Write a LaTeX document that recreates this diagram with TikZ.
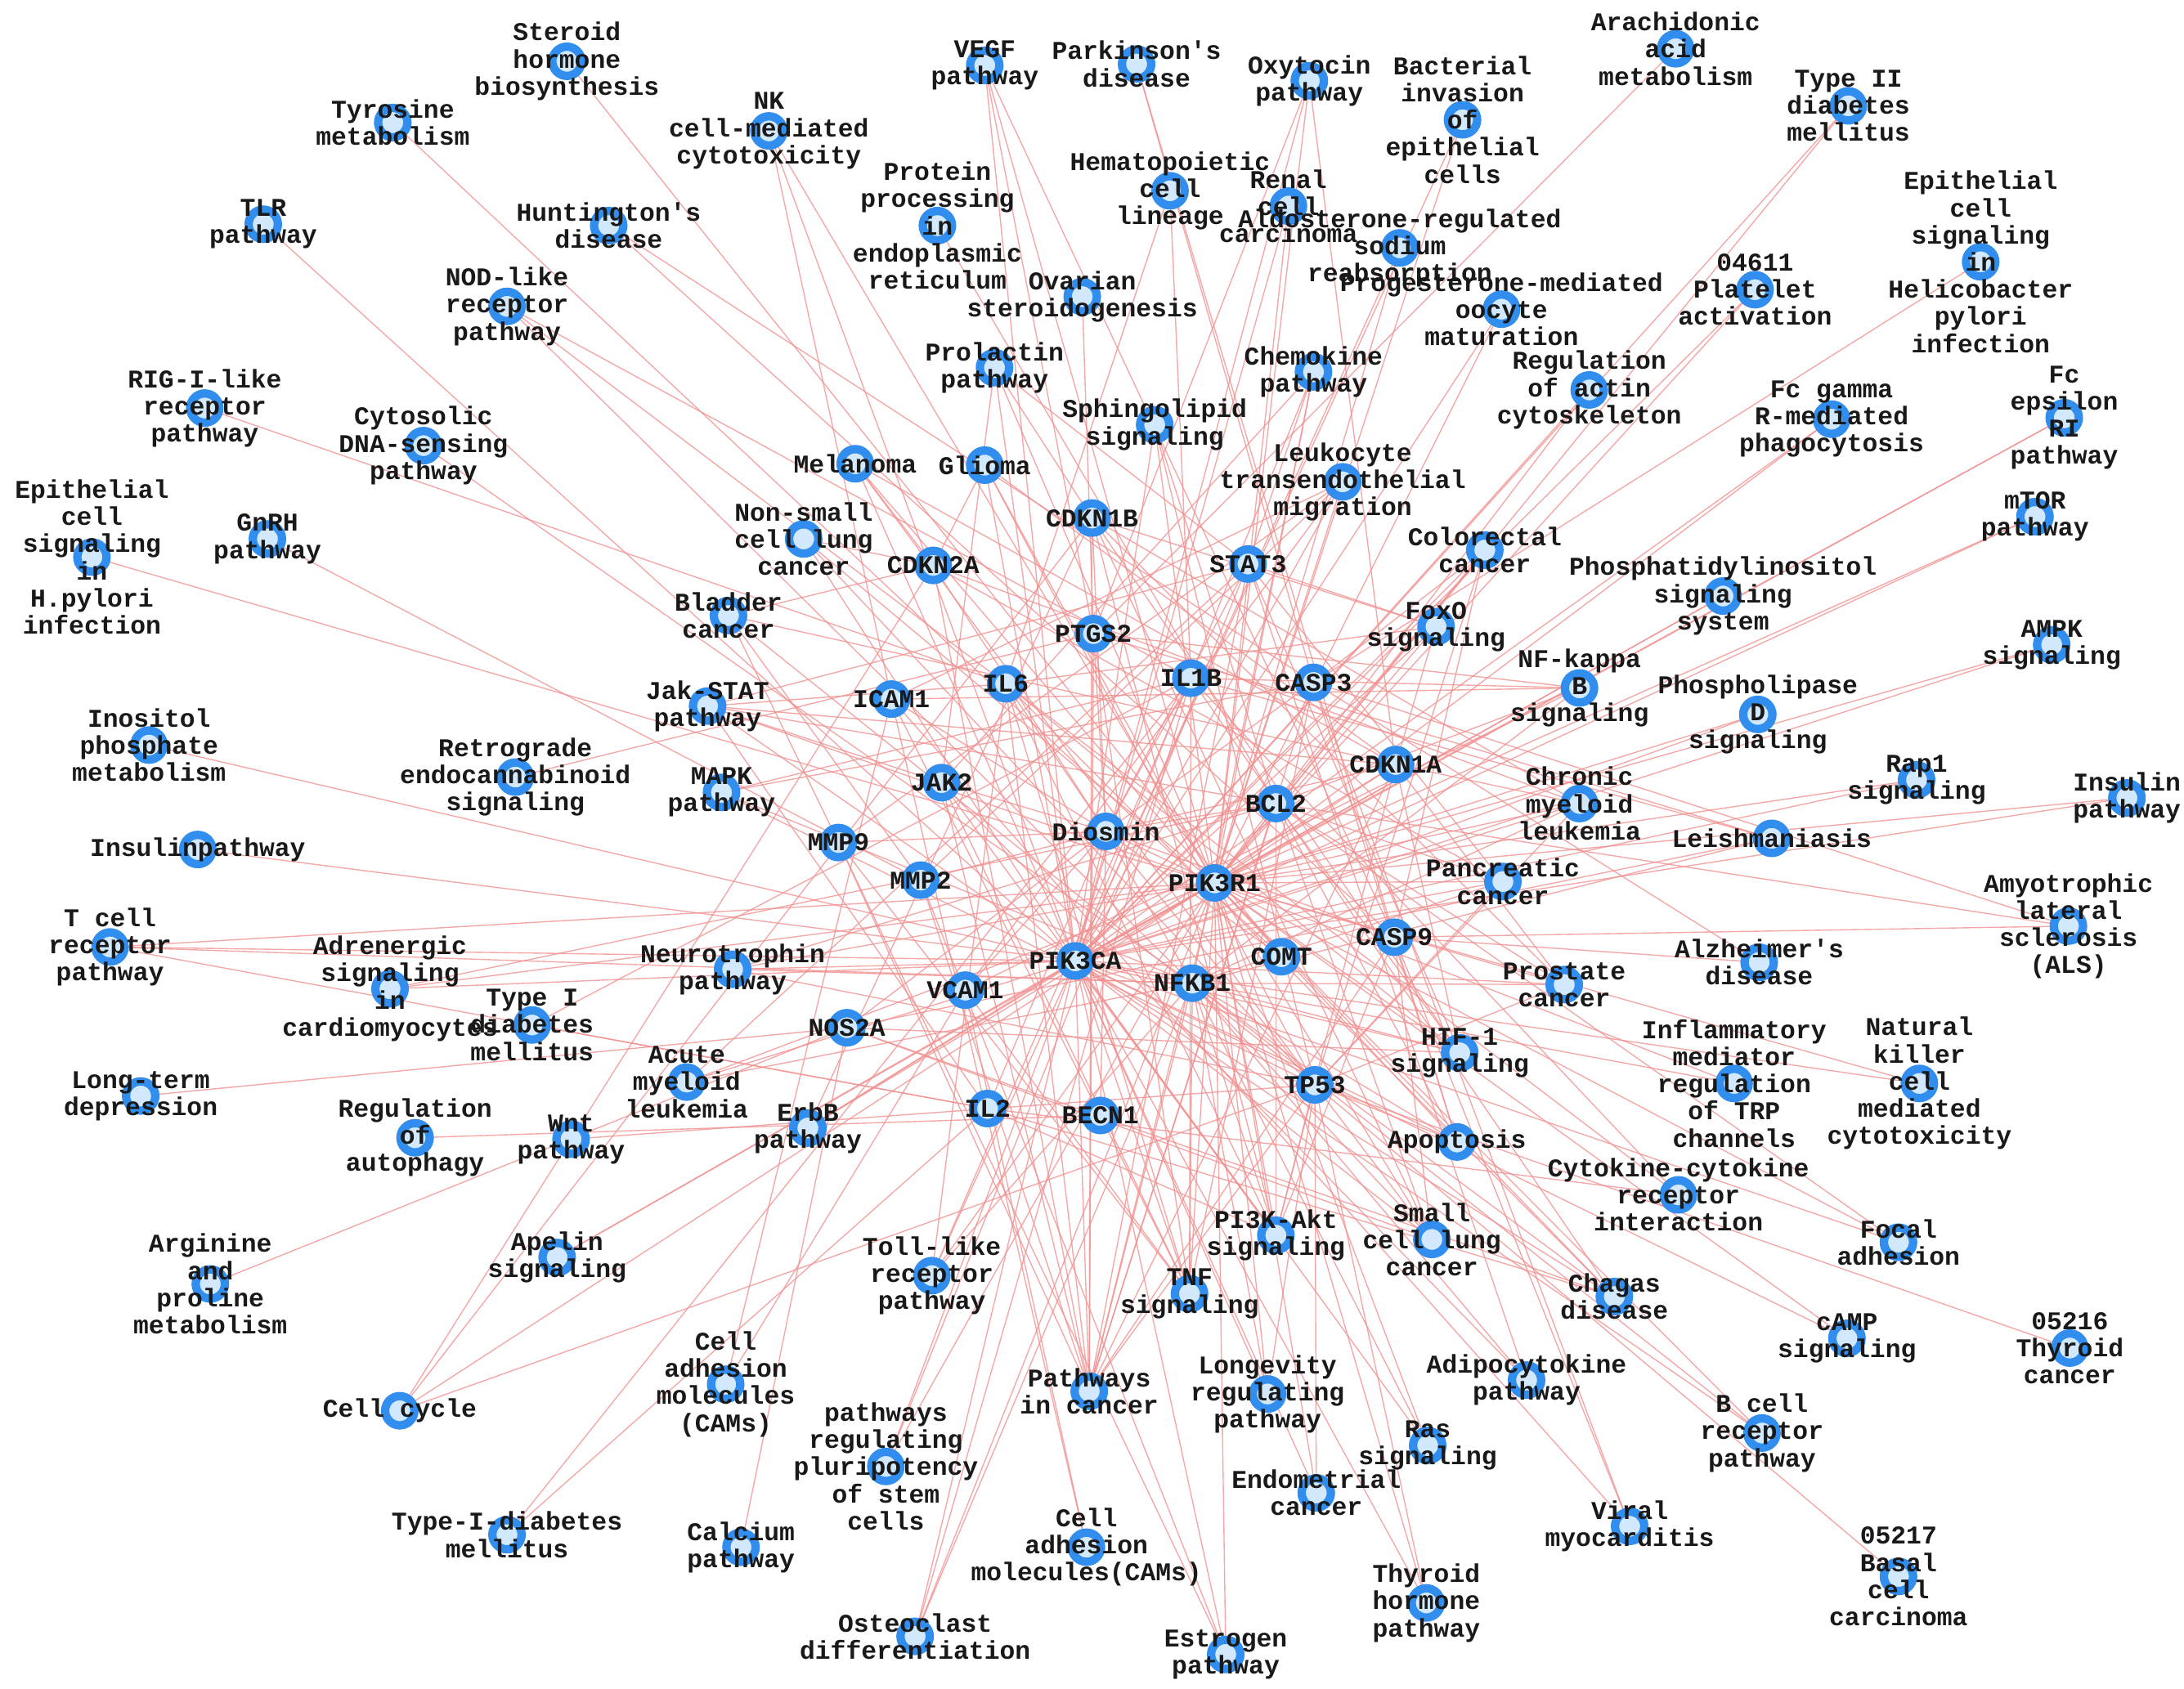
\documentclass[tikz,border=0pt]{standalone}
\usepackage{fontspec}
\newfontfamily\lblfam{Liberation Mono}
\newcommand{\lblfont}{\lblfam\bfseries\fontsize{18.4}{19.5}\selectfont}
\definecolor{ringblue}{RGB}{50,142,238}
\definecolor{coreblue}{RGB}{210,233,253}
\definecolor{edgered}{RGB}{242,145,145}
\definecolor{txtc}{RGB}{25,25,25}
\pgfdeclarelayer{background}
\pgfdeclarelayer{foreground}
\pgfsetlayers{background,main,foreground}
\tikzset{
  ring/.style={circle, draw=ringblue, line width=6pt, fill=coreblue, minimum size=21pt, inner sep=0pt},
  lbl/.style={align=center, font=\lblfont, text=txtc, inner sep=0pt},
  edge/.style={draw=edgered, line width=0.8pt, opacity=0.8}
}
\newcommand{\nd}[4]{%
  \node[ring] (#1) at (#2,#3) {};
  \begin{pgfonlayer}{foreground}\node[lbl] (#1-l) at (#2,#3) {#4};\end{pgfonlayer}}
\newcommand{\conn}[2]{\foreach \g in {#2}{\draw[edge] (#1.center) -- (\g.center);}}
\begin{document}
\begin{tikzpicture}[x=1pt,y=-1pt]
\useasboundingbox (0,0) rectangle (1568,1212.8);
% genes
\nd{dio}{794}{597}{Diosmin}
\nd{pik3ca}{772}{690}{PIK3CA}
\nd{pik3r1}{872}{634}{PIK3R1}
\nd{nfkb1}{856}{706}{NFKB1}
\nd{comt}{920}{687}{COMT}
\nd{casp9}{1001}{673}{CASP9}
\nd{cdkn1a}{1002}{549}{CDKN1A}
\nd{bcl2}{916}{577}{BCL2}
\nd{casp3}{943}{490}{CASP3}
\nd{il1b}{855}{487}{IL1B}
\nd{stat3}{896}{405}{STAT3}
\nd{ptgs2}{785}{455}{PTGS2}
\nd{cdkn1b}{784}{372}{CDKN1B}
\nd{cdkn2a}{670}{406}{CDKN2A}
\nd{il6}{722}{491}{IL6}
\nd{icam1}{640}{502}{ICAM1}
\nd{jak2}{676}{562}{JAK2}
\nd{mmp9}{602}{605}{MMP9}
\nd{mmp2}{661}{632}{MMP2}
\nd{vcam1}{693}{711}{VCAM1}
\nd{nos2a}{608}{738}{NOS2A}
\nd{il2}{709}{796}{IL2}
\nd{becn1}{790}{801}{BECN1}
\nd{tp53}{944}{779}{TP53}
% pathways
\nd{steroid}{407}{44}{Steroid\\hormone\\biosynthesis}
\nd{tyrosine}{282}{88}{Tyrosine\\metabolism}
\nd{nk}{552}{94}{NK\\cell-mediated\\cytotoxicity}
\nd{vegf}{707}{47}{VEGF\\pathway}
\nd{parkinson}{816}{46}{Parkinson's\\disease}
\nd{oxytocin}{940}{58}{Oxytocin\\pathway}
\nd{bacterial}{1050}{86}{Bacterial\\invasion\\of\\epithelial\\cells}
\nd{arachidonic}{1203}{35}{Arachidonic\\acid\\metabolism}
\nd{ttd}{1327}{76}{Type II\\diabetes\\mellitus}
\nd{tlr}{189}{161}{TLR\\pathway}
\nd{huntington}{437}{162}{Huntington's\\disease}
\nd{protein}{673}{162}{Protein\\processing\\in\\endoplasmic\\reticulum}
\nd{hemato}{840}{137}{Hematopoietic\\cell\\lineage}
\nd{renal}{925}{148}{Renal\\cell\\carcinoma}
\nd{aldo}{1005}{178}{Aldosterone-regulated\\sodium\\reabsorption}
\nd{ephelico}{1422}{188}{Epithelial\\cell\\signaling\\in\\Helicobacter\\pylori\\infection}
\nd{platelet}{1260}{208}{04611\\Platelet\\activation}
\nd{nod}{364}{220}{NOD-like\\receptor\\pathway}
\nd{ovarian}{777}{213}{Ovarian\\steroidogenesis}
\nd{progest}{1078}{222}{Progesterone-mediated\\oocyte\\maturation}
\nd{prolactin}{714}{264}{Prolactin\\pathway}
\nd{chemokine}{943}{267}{Chemokine\\pathway}
\nd{actin}{1141}{280}{Regulation\\of actin\\cytoskeleton}
\nd{fcgamma}{1315}{301}{Fc gamma\\R-mediated\\phagocytosis}
\nd{fceps}{1482}{300}{Fc\\epsilon\\RI\\pathway}
\nd{rig}{147}{293}{RIG-I-like\\receptor\\pathway}
\nd{cytosolic}{304}{320}{Cytosolic\\DNA-sensing\\pathway}
\nd{sphingo}{829}{305}{Sphingolipid\\signaling}
\nd{melanoma}{614}{333}{Melanoma}
\nd{glioma}{707}{334}{Glioma}
\nd{leukocyte}{964}{346}{Leukocyte\\transendothelial\\migration}
\nd{mtor}{1461}{371}{mTOR\\pathway}
\nd{nsclc}{577}{387}{Non-small\\cell lung\\cancer}
\nd{ephylori}{66}{400}{Epithelial\\cell\\signaling\\in\\H.pylori\\infection}
\nd{gnrh}{192}{387}{GnRH\\pathway}
\nd{colorectal}{1066}{395}{Colorectal\\cancer}
\nd{phosphatidyl}{1237}{428}{Phosphatidylinositol\\signaling\\system}
\nd{bladder}{523}{442}{Bladder\\cancer}
\nd{foxo}{1031}{450}{FoxO\\signaling}
\nd{ampk}{1473}{463}{AMPK\\signaling}
\nd{nfkb}{1134}{494}{NF-kappa\\B\\signaling}
\nd{jakstat}{508}{507}{Jak-STAT\\pathway}
\nd{pld}{1262}{513}{Phospholipase\\D\\signaling}
\nd{inositol}{107}{535}{Inositol\\phosphate\\metabolism}
\nd{retro}{370}{558}{Retrograde\\endocannabinoid\\signaling}
\nd{mapk}{518}{569}{MAPK\\pathway}
\nd{rapone}{1376}{560}{Rap1\\signaling}
\nd{insulinR}{1527}{573}{Insulin\\pathway}
\nd{cml}{1134}{577}{Chronic\\myeloid\\leukemia}
\nd{leish}{1272}{602}{Leishmaniasis}
\nd{insulinL}{142}{610}{Insulinpathway}
\nd{pancreatic}{1079}{633}{Pancreatic\\cancer}
\nd{als}{1485}{665}{Amyotrophic\\lateral\\sclerosis\\(ALS)}
\nd{tcell}{79}{680}{T cell\\receptor\\pathway}
\nd{adrenergic}{280}{710}{Adrenergic\\signaling\\in\\cardiomyocytes}
\nd{neurotrophin}{526}{696}{Neurotrophin\\pathway}
\nd{alzheimer}{1263}{691}{Alzheimer's\\disease}
\nd{prostate}{1123}{707}{Prostate\\cancer}
\nd{tod}{382}{736}{Type I\\diabetes\\mellitus}
\nd{aml}{493}{777}{Acute\\myeloid\\leukemia}
\nd{hif}{1048}{756}{HIF-1\\signaling}
\nd{inflam}{1245}{778}{Inflammatory\\mediator\\regulation\\of TRP\\channels}
\nd{nkc}{1378}{778}{Natural\\killer\\cell\\mediated\\cytotoxicity}
\nd{ltd}{101}{787}{Long-term\\depression}
\nd{autophagy}{298}{817}{Regulation\\of\\autophagy}
\nd{wnt}{410}{818}{Wnt\\pathway}
\nd{erbb}{580}{810}{ErbB\\pathway}
\nd{apoptosis}{1046}{820}{Apoptosis}
\nd{cytokine}{1205}{858}{Cytokine-cytokine\\receptor\\interaction}
\nd{pik}{916}{887}{PI3K-Akt\\signaling}
\nd{sclc}{1028}{890}{Small\\cell lung\\cancer}
\nd{focal}{1363}{892}{Focal\\adhesion}
\nd{apelin}{400}{903}{Apelin\\signaling}
\nd{tolllike}{669}{916}{Toll-like\\receptor\\pathway}
\nd{arginine}{151}{922}{Arginine\\and\\proline\\metabolism}
\nd{tnf}{854}{929}{TNF\\signaling}
\nd{chagas}{1159}{931}{Chagas\\disease}
\nd{camp}{1326}{961}{cAMP\\signaling}
\nd{thyroidca}{1486}{968}{05216\\Thyroid\\cancer}
\nd{camsa}{521}{994}{Cell\\adhesion\\molecules\\(CAMs)}
\nd{pic}{782}{999}{Pathways\\in cancer}
\nd{longevity}{910}{1001}{Longevity\\regulating\\pathway}
\nd{adipo}{1096}{991}{Adipocytokine\\pathway}
\nd{cellcycle}{287}{1013}{Cell cycle}
\nd{bcr}{1265}{1029}{B cell\\receptor\\pathway}
\nd{ras}{1025}{1038}{Ras\\signaling}
\nd{pluri}{636}{1053}{pathways\\regulating\\pluripotency\\of stem\\cells}
\nd{endometrial}{945}{1072}{Endometrial\\cancer}
\nd{viral}{1170}{1096}{Viral\\myocarditis}
\nd{todb}{364}{1102}{Type-I-diabetes\\mellitus}
\nd{calcium}{532}{1111}{Calcium\\pathway}
\nd{camsb}{780}{1111}{Cell\\adhesion\\molecules(CAMs)}
\nd{basal}{1363}{1132}{05217\\Basal\\cell\\carcinoma}
\nd{thyroidh}{1024}{1151}{Thyroid\\hormone\\pathway}
\nd{osteo}{657}{1175}{Osteoclast\\differentiation}
\nd{estrogen}{880}{1188}{Estrogen\\pathway}
% edges
\begin{pgfonlayer}{background}
\fill[white] (0,0) rectangle (1568,1212.8);
\conn{dio}{pik3ca,pik3r1,nfkb1,comt,casp9,cdkn1a,bcl2,casp3,il1b,stat3,ptgs2,cdkn1b,cdkn2a,il6,icam1,jak2,mmp9,mmp2,vcam1,nos2a,il2,becn1,tp53}
\conn{steroid}{comt}
\conn{tyrosine}{comt}
\conn{nk}{icam1,pik3ca,pik3r1}
\conn{vegf}{ptgs2,pik3r1,pik3ca,casp9}
\conn{parkinson}{casp3,casp9}
\conn{oxytocin}{pik3ca,pik3r1,ptgs2,cdkn1a}
\conn{bacterial}{pik3ca,pik3r1}
\conn{arachidonic}{ptgs2}
\conn{ttd}{pik3ca,pik3r1}
\conn{tlr}{pik3ca}
\conn{huntington}{casp3,casp9}
\conn{protein}{bcl2}
\conn{hemato}{il1b,il6}
\conn{renal}{pik3ca,pik3r1}
\conn{aldo}{pik3ca,pik3r1}
\conn{ephelico}{casp3}
\conn{platelet}{pik3ca,pik3r1}
\conn{nod}{nfkb1,il1b,il6}
\conn{ovarian}{ptgs2}
\conn{progest}{pik3ca,pik3r1}
\conn{prolactin}{jak2,pik3ca,pik3r1,stat3,cdkn1b}
\conn{chemokine}{pik3ca,pik3r1,stat3,jak2,nfkb1}
\conn{actin}{pik3ca,pik3r1}
\conn{fcgamma}{pik3ca,pik3r1}
\conn{fceps}{pik3ca,pik3r1}
\conn{rig}{il6}
\conn{cytosolic}{nfkb1}
\conn{sphingo}{pik3ca,pik3r1,bcl2,tp53}
\conn{melanoma}{pik3ca,pik3r1,cdkn1a,cdkn2a,tp53}
\conn{glioma}{pik3ca,pik3r1,cdkn1a,cdkn2a,tp53}
\conn{leukocyte}{pik3ca,pik3r1,icam1,vcam1,mmp2,mmp9}
\conn{mtor}{pik3ca,pik3r1}
\conn{nsclc}{pik3ca,pik3r1,cdkn2a,tp53}
\conn{ephylori}{pik3r1}
\conn{gnrh}{mmp2}
\conn{colorectal}{pik3ca,pik3r1,bcl2,tp53,casp3,casp9}
\conn{phosphatidyl}{pik3ca,pik3r1}
\conn{bladder}{cdkn1a,cdkn2a,tp53,mmp2,mmp9}
\conn{foxo}{pik3ca,pik3r1,cdkn1a,cdkn1b,il6,stat3}
\conn{ampk}{pik3ca,pik3r1}
\conn{nfkb}{nfkb1,bcl2,il1b,ptgs2,icam1,vcam1}
\conn{jakstat}{pik3ca,pik3r1,stat3,jak2,il6,il2,bcl2,cdkn1a}
\conn{pld}{pik3ca,pik3r1}
\conn{inositol}{pik3ca}
\conn{retro}{ptgs2}
\conn{mapk}{nfkb1,il1b,tp53,casp3}
\conn{rapone}{pik3ca,pik3r1}
\conn{insulinR}{pik3ca,pik3r1}
\conn{cml}{pik3ca,pik3r1,nfkb1,cdkn1a,cdkn1b,cdkn2a,tp53}
\conn{leish}{nfkb1,il1b,ptgs2,nos2a}
\conn{insulinL}{pik3ca}
\conn{pancreatic}{pik3ca,pik3r1,nfkb1,stat3,cdkn2a,tp53,bcl2}
\conn{als}{bcl2,casp3,casp9}
\conn{tcell}{pik3ca,pik3r1,nfkb1,il2}
\conn{adrenergic}{pik3ca,pik3r1,bcl2}
\conn{neurotrophin}{pik3ca,pik3r1,nfkb1,bcl2,tp53}
\conn{alzheimer}{casp3,casp9}
\conn{prostate}{pik3ca,pik3r1,nfkb1,bcl2,cdkn1a,cdkn1b,tp53}
\conn{tod}{il1b,il2}
\conn{aml}{pik3ca,pik3r1,nfkb1,stat3}
\conn{hif}{pik3ca,pik3r1,nfkb1,stat3,bcl2,cdkn1a,cdkn1b,il6,nos2a}
\conn{inflam}{pik3ca,pik3r1}
\conn{nkc}{pik3ca,pik3r1}
\conn{ltd}{nos2a}
\conn{autophagy}{becn1}
\conn{wnt}{tp53}
\conn{erbb}{pik3ca,pik3r1,cdkn1a,cdkn1b}
\conn{apoptosis}{pik3ca,pik3r1,nfkb1,bcl2,casp3,casp9,tp53}
\conn{cytokine}{il6,il1b,il2}
\conn{pik}{pik3ca,pik3r1,nfkb1,bcl2,casp9,cdkn1a,cdkn1b,tp53,il6,il2,jak2}
\conn{sclc}{pik3ca,pik3r1,nfkb1,bcl2,casp9,cdkn1b,tp53,nos2a}
\conn{focal}{pik3ca,pik3r1,bcl2}
\conn{apelin}{pik3ca,pik3r1}
\conn{tolllike}{pik3ca,pik3r1,nfkb1,il1b,il6}
\conn{arginine}{nos2a}
\conn{tnf}{pik3ca,pik3r1,nfkb1,il6,il1b,icam1,vcam1,mmp9,ptgs2,casp3,jak2}
\conn{chagas}{pik3ca,pik3r1,nfkb1,il6,il1b,il2,nos2a}
\conn{camp}{pik3ca,pik3r1}
\conn{thyroidca}{tp53}
\conn{camsa}{icam1,vcam1}
\conn{pic}{pik3ca,pik3r1,nfkb1,stat3,bcl2,casp3,casp9,cdkn1a,cdkn1b,cdkn2a,tp53,mmp2,mmp9,ptgs2,il6,jak2}
\conn{longevity}{pik3ca,pik3r1,nfkb1,tp53}
\conn{adipo}{nfkb1,stat3,jak2}
\conn{cellcycle}{cdkn2a,cdkn1b,cdkn1a,tp53}
\conn{bcr}{pik3ca,pik3r1,nfkb1}
\conn{ras}{pik3ca,pik3r1,nfkb1}
\conn{pluri}{pik3ca,pik3r1,stat3}
\conn{endometrial}{pik3ca,pik3r1,tp53}
\conn{viral}{icam1,casp3,casp9}
\conn{todb}{il2,il1b}
\conn{calcium}{nos2a}
\conn{camsb}{icam1,vcam1}
\conn{basal}{tp53}
\conn{thyroidh}{pik3ca,pik3r1,tp53}
\conn{osteo}{pik3ca,pik3r1,nfkb1,il1b}
\conn{estrogen}{pik3ca,pik3r1,mmp2,mmp9}
\end{pgfonlayer}
\end{tikzpicture}
\end{document}
